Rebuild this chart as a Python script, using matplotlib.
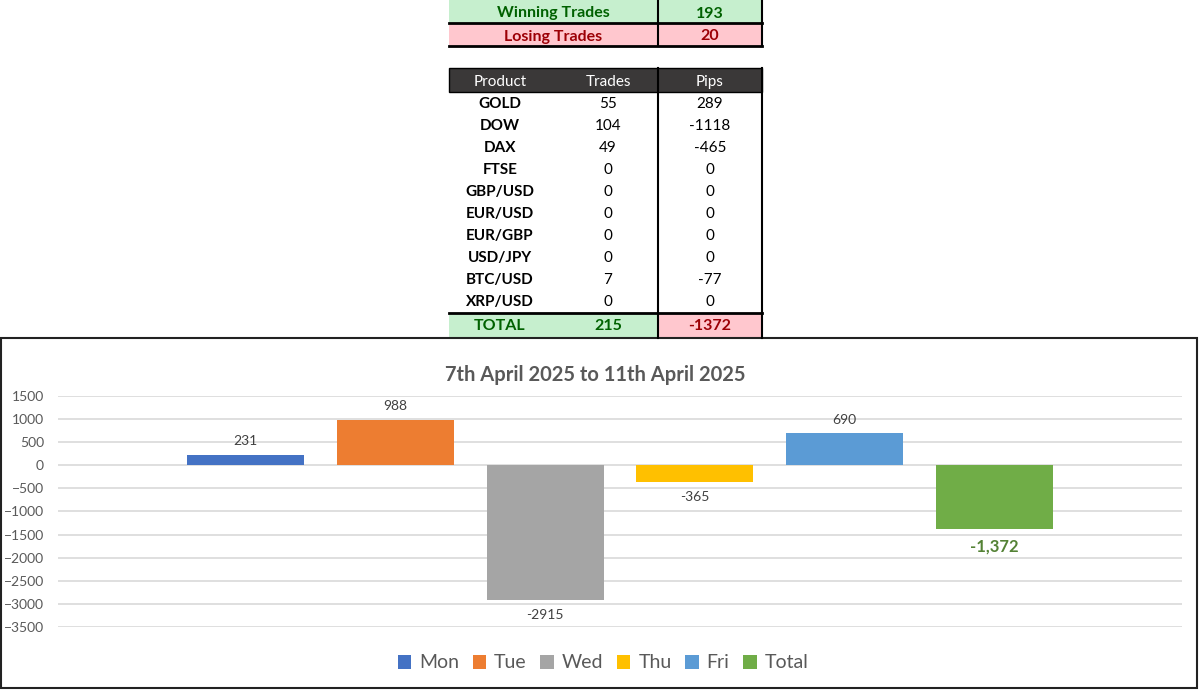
import matplotlib
matplotlib.use("Agg")
import matplotlib.pyplot as plt
from matplotlib.patches import Rectangle
from matplotlib.lines import Line2D

plt.rcParams['font.family'] = ['Lato', 'DejaVu Sans']

# summary table
summary_labels = ["Winning Trades", "Losing Trades"]
summary_values = [193, 20]

# product table
table_header = ["Product", "Trades", "Pips"]
products = ["GOLD", "DOW", "DAX", "FTSE", "GBP/USD", "EUR/USD", "EUR/GBP", "USD/JPY", "BTC/USD", "XRP/USD"]
trades = [55, 104, 49, 0, 0, 0, 0, 0, 7, 0]
pips = [289, -1118, -465, 0, 0, 0, 0, 0, -77, 0]
total_trades = 215
total_pips = -1372

# weekly chart
chart_title = "7th April 2025 to 11th April 2025"
days = ["Mon", "Tue", "Wed", "Thu", "Fri", "Total"]
day_pips = [231, 988, -2915, -365, 690, -1372]
day_colors = ["#4472C4", "#ED7D31", "#A5A5A5", "#FFC000", "#5B9BD5", "#70AD47"]

W, H = 1200, 690
fig = plt.figure(figsize=(12, 6.9), dpi=100)


def fx(x):
    return x / W


def fy(y):
    return 1 - y / H


def box(x0, y0, x1, y1, color, edge="none", lw=0):
    fig.add_artist(Rectangle((fx(x0), fy(y1)), fx(x1) - fx(x0), fy(y0) - fy(y1),
                             transform=fig.transFigure, facecolor=color,
                             edgecolor=edge, linewidth=lw))


def line(x0, y0, x1, y1, lw=1.5, color="black"):
    fig.add_artist(Line2D([fx(x0), fx(x1)], [fy(y0), fy(y1)],
                          transform=fig.transFigure, color=color, linewidth=lw))


def txt(x, y, s, **kw):
    # small shift down so the glyphs sit like the spreadsheet cells
    fig.text(fx(x), fy(y + 2), s, ha="center", va="center", **kw)


GREEN_BG, GREEN_TX = "#C6EFCE", "#006100"
PINK_BG, PINK_TX = "#FFC7CE", "#9C0006"

# --- summary table ---
rows = [(0, 23, GREEN_BG, GREEN_TX), (23, 46, PINK_BG, PINK_TX)]
for (y0, y1, bg, tc), lab, val in zip(rows, summary_labels, summary_values):
    box(449, y0, 762, y1, bg)
    txt(553, (y0 + y1) / 2, lab, color=tc, fontsize=11.5, fontweight="bold")
    txt(710, (y0 + y1) / 2, str(val), color=tc, fontsize=11.5, fontweight="bold")
    line(449, y1, 762, y1, lw=2)
line(658, 0, 658, 46)
line(762, 0, 762, 46)

# --- product table ---
box(449, 68, 762, 92, "#3A3838", edge="black", lw=1)
for x, s in zip([500, 608, 710], table_header):
    txt(x, 80, s, color="white", fontsize=11)
for i, (p, t, v) in enumerate(zip(products, trades, pips)):
    y = 102 + 22 * i
    txt(500, y, p, fontsize=11, fontweight="bold")
    txt(608, y, str(t), fontsize=11)
    txt(710, y, str(v), fontsize=11)
box(449, 313, 658, 337, GREEN_BG)
box(658, 313, 762, 337, PINK_BG)
txt(500, 324, "TOTAL", color=GREEN_TX, fontsize=11.5, fontweight="bold")
txt(608, 324, str(total_trades), color=GREEN_TX, fontsize=11.5, fontweight="bold")
txt(710, 324, str(total_pips), color=PINK_TX, fontsize=11.5, fontweight="bold")
line(449, 313, 762, 313, lw=2)
line(658, 68, 658, 338)
line(762, 68, 762, 338)

# --- chart box ---
fig.add_artist(Rectangle((fx(1), fy(688)), fx(1197) - fx(1), fy(338) - fy(688),
                         transform=fig.transFigure, fill=False,
                         edgecolor="#222222", linewidth=1.5))

ax = fig.add_axes([fx(58), fy(627), fx(1182) - fx(58), fy(396) - fy(627)])
xs = list(range(len(days)))
bars = ax.bar(xs, day_pips, width=0.78, color=day_colors, label=days, zorder=3)
ax.set_xlim(-1.25, 6.25)
ax.set_ylim(-3500, 1500)
ax.set_yticks(range(-3500, 1501, 500))
ax.set_xticks([])
ax.grid(axis="y", color="#D9D9D9", linewidth=1.2, zorder=0)
for s in ax.spines.values():
    s.set_visible(False)
ax.tick_params(axis="y", length=0, pad=10, labelsize=10, labelcolor="#595959")

for i, (b, v) in enumerate(zip(bars, day_pips)):
    off = 10 if v > 0 else -11
    if days[i] == "Total":
        ax.annotate(f"{v:,}", (b.get_x() + b.get_width() / 2, v), xytext=(0, -13),
                    textcoords="offset points", ha="center", va="center",
                    fontsize=12, fontweight="bold", color="#548235")
    else:
        ax.annotate(str(v), (b.get_x() + b.get_width() / 2, v), xytext=(0, off),
                    textcoords="offset points", ha="center", va="center",
                    fontsize=10, color="#404040")

fig.text(fx(595), fy(375), chart_title, ha="center", va="center",
         fontsize=14.5, fontweight="bold", color="#595959")

fig.legend(bars, days, loc="center", bbox_to_anchor=(fx(603), fy(663)), ncol=6,
           frameon=False, fontsize=14, labelcolor="#595959", handlelength=0.7,
           handleheight=0.7, handletextpad=0.4, columnspacing=0.7)

fig.savefig("out.png", dpi=100)
